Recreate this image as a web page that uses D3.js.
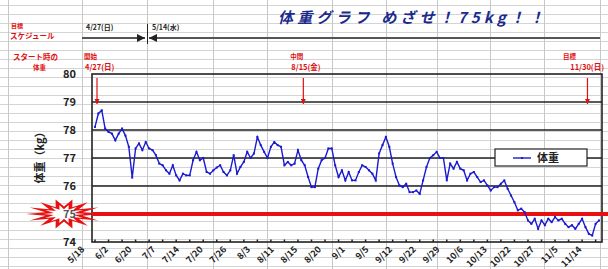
<!DOCTYPE html>
<html>
<head>
<meta charset="utf-8">
<script src="https://cdn.jsdelivr.net/npm/d3@7"></script>
<style>
  body { margin: 0; background: #fff; }
  svg { display: block; font-family: "Noto Sans CJK JP", "Noto Sans", sans-serif; }
</style>
</head>
<body>
<div id="chart"></div>
<script>
// daily weight (kg)
const weights = [
  78.11, 78.59, 78.7, 78.05, 77.93, 77.87, 77.63, 77.87, 78.05, 77.8,
  77.4, 76.3, 77.34, 77.52, 77.28, 77.57, 77.34, 77.28, 77.1, 76.8,
  76.74, 76.56, 76.44, 76.74, 76.38, 76.2, 76.44, 76.38, 76.38, 76.92,
  77.22, 76.92, 77.0, 76.5, 76.44, 76.56, 76.66, 76.74, 76.5, 76.38,
  76.56, 77.1, 76.44, 76.68, 76.86, 77.22, 77.0, 77.16, 77.75, 77.46,
  77.22, 77.0,
  77.4, 77.57, 77.46, 77.4, 76.74, 76.86, 76.74, 76.8, 77.28, 76.92,
  76.74, 76.32, 75.96, 75.96, 76.62, 76.92, 77.0, 77.34, 77.34, 76.74,
  76.32, 76.56, 76.2, 76.5, 76.2, 76.2, 76.5, 76.74, 76.68, 76.56,
  76.44, 76.2, 77.16, 77.46, 77.75, 77.4, 76.8, 76.32, 76.02, 75.96,
  76.08, 75.78, 75.78, 75.84, 75.72, 76.2, 76.68, 77.0, 77.1, 77.22,
  77.0, 77.0, 76.2, 76.8, 76.62, 76.86, 76.62, 76.56, 76.2,
  76.44, 76.5, 76.32, 76.14, 76.2, 76.02, 75.84, 75.96, 75.96, 76.08,
  76.2, 75.9, 75.66, 75.42, 75.13, 75.19, 75.07, 74.77, 74.65, 74.83,
  74.47, 74.77, 74.6, 74.83, 74.71, 74.89, 74.77, 74.83, 74.65, 74.53,
  74.6, 74.47, 74.65, 74.83, 74.53, 74.29, 74.23, 74.65, 74.77
];

const tickLabels = [
  '5/18', '6/2', '6/20', '7/7', '7/14', '7/20', '7/26', '8/3', '8/11', '8/15', '8/20',
  '9/1', '9/5', '9/12', '9/22', '9/29', '10/6', '10/13', '10/22', '10/27', '11/5', '11/14'
];
const tickEvery = 7;
const yTicks = [74, 75, 76, 77, 78, 79, 80];
const goalWeight = 75;

const title = '体重グラフ めざせ！75kg！！';
const milestones = [
  { name: '開始', date: '4/27(日)', index: 0 },
  { name: '中間', date: '8/15(金)', index: 61 },
  { name: '目標', date: '11/30(日)', index: 145 },
];

// spreadsheet backdrop
const W = 608, H = 269;
const sheetCols = [8, 82, 147, 213, 267, 332, 386, 437, 490, 544, 600];

const svg = d3.select('#chart').append('svg')
  .attr('width', W)
  .attr('height', H);

svg.append('g').selectAll('line').data(d3.range(5, H, 9)).join('line')
  .attr('x1', 0).attr('x2', W)
  .attr('y1', d => d + 0.5).attr('y2', d => d + 0.5)
  .attr('stroke', '#d4d4d4');

svg.append('g').selectAll('line').data(sheetCols).join('line')
  .attr('x1', d => d + 0.5).attr('x2', d => d + 0.5)
  .attr('y1', 0).attr('y2', H)
  .attr('stroke', '#c8c8c8');

// header
svg.append('text')
  .attr('x', 278).attr('y', 23)
  .attr('font-size', 15).attr('font-weight', 'bold').attr('font-style', 'italic')
  .attr('fill', '#1b2a8c')
  .attr('textLength', 266).attr('lengthAdjust', 'spacing')
  .text(title);

const redText = (x, y, size, txt, anchor = 'start') => svg.append('text')
  .attr('x', x).attr('y', y)
  .attr('text-anchor', anchor)
  .attr('font-size', size).attr('font-weight', 'bold')
  .attr('fill', '#e01010').text(txt);

redText(11, 28, 6, '目標');
redText(10, 39, 7.5, 'スケジュール');
redText(13, 60, 7.5, 'スタート時の');
redText(33, 70, 6.5, '体重');

svg.append('text').attr('x', 86).attr('y', 30).attr('font-size', 7).attr('font-weight', 'bold')
  .attr('fill', '#222').text('4/27(日)');
svg.append('text').attr('x', 152).attr('y', 30).attr('font-size', 7).attr('font-weight', 'bold')
  .attr('fill', '#222').text('5/14(水)');

const defs = svg.append('defs');
defs.append('marker').attr('id', 'ah').attr('viewBox', '0 0 10 10')
  .attr('refX', 10).attr('refY', 5)
  .attr('markerWidth', 4).attr('markerHeight', 4).attr('orient', 'auto-start-reverse')
  .append('path').attr('d', 'M0,0L10,5L0,10Z').attr('fill', '#222');
defs.append('marker').attr('id', 'rh').attr('viewBox', '0 0 10 10')
  .attr('refX', 10).attr('refY', 5)
  .attr('markerWidth', 4.5).attr('markerHeight', 4.5).attr('orient', 'auto')
  .append('path').attr('d', 'M0,0L10,5L0,10Z').attr('fill', '#e01010');

svg.append('line').attr('x1', 82).attr('x2', 145).attr('y1', 38).attr('y2', 38)
  .attr('stroke', '#555').attr('stroke-width', 2).attr('marker-end', 'url(#ah)');
svg.append('line').attr('x1', 149).attr('x2', 600).attr('y1', 38).attr('y2', 38)
  .attr('stroke', '#555').attr('stroke-width', 2).attr('marker-start', 'url(#ah)');
svg.append('line').attr('x1', 147.5).attr('x2', 147.5).attr('y1', 24).attr('y2', 44)
  .attr('stroke', '#222').attr('stroke-width', 1);

// chart
const plot = { left: 92, right: 602, top: 74, bottom: 242 };

const x = d3.scalePoint()
  .domain(d3.range(weights.length))
  .range([plot.left + 3, plot.right - 3]);

const y = d3.scaleLinear()
  .domain([74, 80])
  .range([plot.bottom, plot.top]);

// black horizontal gridlines
svg.append('g').selectAll('line').data(yTicks.filter(v => v > 74 && v < 80 && v !== goalWeight)).join('line')
  .attr('x1', plot.left).attr('x2', plot.right)
  .attr('y1', d => y(d)).attr('y2', d => y(d))
  .attr('stroke', '#222').attr('stroke-width', 1.6);

svg.append('rect')
  .attr('x', plot.left).attr('y', plot.top)
  .attr('width', plot.right - plot.left).attr('height', plot.bottom - plot.top)
  .attr('fill', 'none').attr('stroke', '#222').attr('stroke-width', 1.6);

// goal line
svg.append('line')
  .attr('x1', plot.left).attr('x2', W)
  .attr('y1', y(goalWeight)).attr('y2', y(goalWeight))
  .attr('stroke', '#e81010').attr('stroke-width', 4);

// starburst behind goal label
const spikes = 14;
const burst = d3.range(spikes * 2).map(i => {
  const a = (i / (spikes * 2)) * Math.PI * 2;
  const r = i % 2 ? 0.5 : 1;
  return [Math.cos(a) * 38 * r, Math.sin(a) * 15 * r];
});
const burstG = svg.append('g').attr('transform', `translate(64,${y(goalWeight)})`);
burstG.append('path')
  .attr('d', d3.line().curve(d3.curveLinearClosed)(burst))
  .attr('fill', '#e81010');
burstG.append('path')
  .attr('d', d3.line().curve(d3.curveLinearClosed)(burst.map(([a, b]) => [a * 0.55, b * 0.62])))
  .attr('fill', '#fff');

// y axis labels
svg.append('g').selectAll('text').data(yTicks).join('text')
  .attr('x', 76).attr('y', d => y(d) + 4)
  .attr('text-anchor', 'end')
  .attr('font-size', 11).attr('font-weight', 'bold')
  .attr('fill', d => d === goalWeight ? '#555' : '#222')
  .text(d => d);

svg.append('text')
  .attr('transform', 'translate(44,155) rotate(-90)')
  .attr('text-anchor', 'middle')
  .attr('font-size', 11).attr('font-weight', 'bold').attr('fill', '#222')
  .text('体重（kg）');

// x axis ticks and labels
const tickIdx = tickLabels.map((_, i) => i * tickEvery);
svg.append('g').selectAll('line').data(d3.range(0, weights.length, 4)).join('line')
  .attr('x1', d => x(d)).attr('x2', d => x(d))
  .attr('y1', plot.bottom).attr('y2', plot.bottom - 2.5)
  .attr('stroke', '#222').attr('stroke-width', 1.5);

svg.append('g').selectAll('text').data(tickIdx).join('text')
  .attr('transform', d => `translate(${x(d) - 10},${plot.bottom + 8}) rotate(-45)`)
  .attr('text-anchor', 'end')
  .attr('font-size', 9).attr('font-weight', 'bold').attr('fill', '#222')
  .text((d, i) => tickLabels[i]);

// milestone notes + arrows
for (const m of milestones) {
  const mx = x(m.index);
  const last = m.index > weights.length / 2 + 30;
  redText(last ? 604 : mx - 11, 59, 6.5, m.name, last ? 'end' : 'start')
    .attr('dx', last ? -28 : 0);
  redText(last ? 604 : mx - 10, 70, 7.5, m.date, last ? 'end' : 'start');
  svg.append('line')
    .attr('x1', mx + 2).attr('x2', mx + 2)
    .attr('y1', plot.top + 4).attr('y2', plot.top + 30)
    .attr('stroke', '#e01010').attr('stroke-width', 1.2)
    .attr('marker-end', 'url(#rh)');
}

// weight series
svg.append('path')
  .datum(weights)
  .attr('fill', 'none')
  .attr('stroke', '#1a1ad0')
  .attr('stroke-width', 1.4)
  .attr('d', d3.line().x((d, i) => x(i)).y(d => y(d)));

svg.append('g').selectAll('rect').data(weights).join('rect')
  .attr('x', (d, i) => x(i) - 1).attr('y', d => y(d) - 1)
  .attr('width', 2).attr('height', 2)
  .attr('fill', '#1a1ad0');

// legend
const lg = svg.append('g').attr('transform', 'translate(495,149)');
lg.append('rect').attr('width', 92).attr('height', 17)
  .attr('fill', '#fff').attr('stroke', '#222').attr('stroke-width', 1.2);
lg.append('line').attr('x1', 18).attr('x2', 36).attr('y1', 9).attr('y2', 9)
  .attr('stroke', '#1a1ad0').attr('stroke-width', 1.4);
lg.append('rect').attr('x', 26).attr('y', 8).attr('width', 2).attr('height', 2).attr('fill', '#1a1ad0');
lg.append('text').attr('x', 42).attr('y', 13)
  .attr('font-size', 11).attr('font-weight', 'bold').attr('fill', '#222')
  .text('体重');
</script>
</body>
</html>
